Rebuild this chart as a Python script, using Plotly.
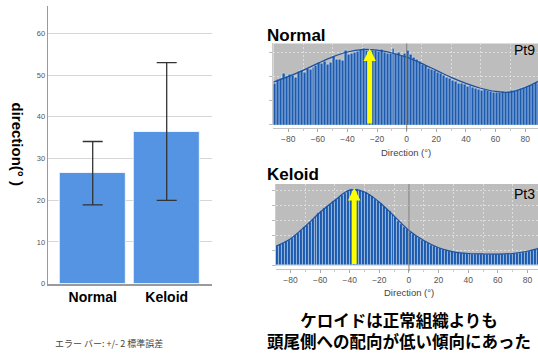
import plotly.graph_objects as go

W, H = 538, 360

# ---- mean fibre direction per group (bar chart) ----
categories = ["Normal", "Keloid"]
mean_direction = [26.5, 36.5]
err_2se = [7.6, 16.5]
y_ticks = [0, 10, 20, 30, 40, 50, 60]

# ---- orientation histograms (2 degree bins, -90..90) ----
bin_centers = list(range(-89, 90, 2))
normal_counts = [
    1.74, 1.90, 1.92, 2.12, 2.02, 2.08, 2.05, 1.95, 2.22, 2.26,
    2.18, 2.33, 2.28, 2.40, 2.45, 2.60, 2.55, 2.64, 2.52, 2.58,
    2.83, 2.72, 2.70, 2.68, 3.08, 2.92, 2.95, 3.00, 3.05, 3.12,
    3.15, 3.10, 3.12, 3.08, 3.10, 3.06, 3.12, 3.02, 2.98, 2.95,
    3.18, 2.95, 3.00, 2.90, 2.96, 3.10, 2.92, 2.78, 2.70, 2.62,
    2.50, 2.45, 2.36, 2.30, 2.25, 2.18, 2.12, 2.05, 1.98, 1.94,
    1.86, 1.80, 1.74, 1.70, 1.66, 1.60, 1.62, 1.55, 1.52, 1.48,
    1.44, 1.46, 1.42, 1.38, 1.36, 1.34, 1.35, 1.37, 1.36, 1.40,
    1.42, 1.45, 1.48, 1.52, 1.55, 1.60, 1.65, 1.66, 1.78, 1.72,
]
keloid_counts = [
    1.31, 1.40, 1.50, 1.60, 1.72, 1.84, 2.00, 2.16, 2.34, 2.52,
    2.70, 2.90, 3.08, 3.26, 3.45, 3.62, 3.78, 3.95, 4.10, 4.26,
    4.40, 4.54, 4.68, 4.82, 4.95, 5.04, 5.08, 5.07, 5.02, 4.93,
    4.84, 4.72, 4.58, 4.42, 4.27, 4.12, 3.94, 3.77, 3.58, 3.38,
    3.18, 2.98, 2.78, 2.58, 2.42, 2.25, 2.10, 1.96, 1.83, 1.72,
    1.60, 1.48, 1.38, 1.30, 1.22, 1.15, 1.08, 1.02, 0.97, 0.93,
    0.89, 0.86, 0.84, 0.82, 0.81, 0.80, 0.79, 0.78, 0.78, 0.77,
    0.77, 0.76, 0.76, 0.76, 0.76, 0.76, 0.77, 0.77, 0.78, 0.79,
    0.80, 0.82, 0.85, 0.88, 0.92, 0.97, 1.02, 1.08, 1.14, 1.18,
]
fit_angles = [-90, -80, -70, -60, -50, -40, -30, -20, -10, 0,
              10, 20, 30, 40, 50, 60, 70, 80, 90]
normal_fit = [1.77, 2.00, 2.26, 2.55, 2.82, 3.02, 3.12, 3.10, 2.98, 2.80,
              2.55, 2.26, 1.97, 1.72, 1.52, 1.39, 1.36, 1.55, 1.84]
keloid_fit = [1.27, 1.78, 2.61, 3.53, 4.33, 5.00, 4.88, 4.20, 3.28, 2.33,
              1.66, 1.18, 0.91, 0.80, 0.77, 0.76, 0.80, 0.95, 1.20]
dir_ticks = [-80, -60, -40, -20, 0, 20, 40, 60, 80]
dir_grid = [-70, -50, -30, -10, 10, 30, 50, 70]

normal_peak_angle, normal_peak_height = -25, 3.16
keloid_peak_angle, keloid_peak_height = -37, 5.14

conclusion_lines = ["ケロイドは正常組織よりも", "頭尾側への配向が低い傾向にあった"]


def fx(px):
    return px / W


def fy(py):
    return 1 - py / H


LATIN = "Liberation Sans, Arial, sans-serif"
CJK = "Noto Sans CJK JP, sans-serif"
BAR_BLUE = "#1b5aae"
PANEL_GRAY = "#bdbdbd"
GRID = "#dedede"

fig = go.Figure()

# bar chart with +/- 2 SE error bars
fig.add_trace(go.Bar(
    x=categories, y=mean_direction, width=0.9,
    marker=dict(color="#5494e3", line=dict(color="#ffffff", width=0.8)),
    error_y=dict(type="data", array=err_2se, color="#333333",
                 thickness=1.3, width=10),
    xaxis="x", yaxis="y", showlegend=False,
))

# orientation histograms with fitted curves
for counts, fit, ax, ay in [(normal_counts, normal_fit, "x2", "y2"),
                            (keloid_counts, keloid_fit, "x3", "y3")]:
    fig.add_trace(go.Bar(
        x=bin_centers, y=counts, width=2,
        marker=dict(color=BAR_BLUE, line=dict(color="#d8e6f7", width=0.5)),
        xaxis=ax, yaxis=ay, showlegend=False,
    ))
    fig.add_trace(go.Scatter(
        x=fit_angles, y=fit, mode="lines", line=dict(color="#1f4f9a", width=1.2, shape="spline"),
        xaxis=ax, yaxis=ay, showlegend=False, hoverinfo="skip",
    ))

hist_x = dict(
    tickmode="array", tickvals=dir_ticks, ticks="outside", ticklen=3,
    tickcolor="#aaaaaa", tickfont=dict(family=LATIN, size=8.5, color="#555555"),
    showline=True, linecolor="#c4c4c4", linewidth=1, showgrid=False, zeroline=False,
    minor=dict(tickmode="array", tickvals=dir_grid, showgrid=True, gridcolor=GRID,
               griddash="2px,2px", gridwidth=1, ticks="outside", ticklen=2,
               tickcolor="#cccccc"),
    anchor="free",
)
hist_y = dict(
    tickmode="linear", tick0=0, dtick=1, showticklabels=False, ticks="outside",
    ticklen=3, tickcolor="#bbbbbb", showline=True, linecolor="#cccccc", linewidth=1,
    showgrid=True, gridcolor=GRID, griddash="2px,2px", gridwidth=1, zeroline=False,
)

fig.update_layout(
    width=W, height=H, margin=dict(l=0, r=0, t=0, b=0),
    paper_bgcolor="white", plot_bgcolor="rgba(0,0,0,0)",
    bargap=0, showlegend=False,
    xaxis=dict(
        domain=[fx(47.7), fx(211.7)], range=[-0.608, 1.608], type="category",
        tickfont=dict(family=LATIN, size=14, color="black", weight="bold"),
        showline=True, linecolor="#9a9a9a", linewidth=1.5, ticks="", anchor="y",
    ),
    yaxis=dict(
        domain=[fy(287.7), fy(6)], range=[0, 66.6], tickmode="array", tickvals=y_ticks,
        tickfont=dict(family=LATIN, size=7.5, color="#555555"),
        showgrid=True, gridcolor="#d6d6d6", gridwidth=1, zeroline=False,
        showline=True, linecolor="#9a9a9a", linewidth=1, ticks="", anchor="x",
    ),
    xaxis2=dict(hist_x, domain=[fx(273.4), 1], range=[-90, 88.64], position=fy(130)),
    yaxis2=dict(hist_y, domain=[fy(126.7), fy(44)], range=[0, 3.376], anchor="x2"),
    xaxis3=dict(hist_x, domain=[fx(275.7), 1], range=[-90, 87.13], position=fy(272.5)),
    yaxis3=dict(hist_y, domain=[fy(269.3), fy(186.7)], range=[0, 5.4], anchor="x3"),
)

# gray panel backgrounds and the 0 degree reference line
for ax, ay in [("x2", "y2"), ("x3", "y3")]:
    fig.add_shape(type="rect", xref=f"{ax} domain", yref=f"{ay} domain",
                  x0=0, x1=1, y0=0, y1=1, fillcolor=PANEL_GRAY, line=dict(width=0),
                  layer="below")
    fig.add_shape(type="line", xref=ax, yref=f"{ay} domain", x0=0, x1=0, y0=-0.07, y1=1,
                  line=dict(color="#7f7f7f", width=1), layer="above")

# yellow arrows at the peak direction
for ang, h, ax, ay in [(normal_peak_angle, normal_peak_height, "x2", "y2"),
                       (keloid_peak_angle, keloid_peak_height, "x3", "y3")]:
    fig.add_annotation(x=ang, y=h, xref=ax, yref=ay, ax=ang, ay=0, axref=ax, ayref=ay,
                       text="", showarrow=True, arrowhead=2, arrowsize=0.5,
                       arrowwidth=5, arrowcolor="#ffff00", standoff=0, startstandoff=0)


def label(text, x, y, size, color="black", family=LATIN, bold=False, xanchor="center",
          angle=0):
    fig.add_annotation(
        text=text, x=fx(x), y=fy(y), xref="paper", yref="paper", showarrow=False,
        xanchor=xanchor, yanchor="middle", textangle=angle,
        font=dict(family=family, size=size, color=color, weight="bold" if bold else "normal"),
    )


label("direction(° )", 18, 146.5, 15, bold=True, angle=90)
label("エラー バー: +/- 2 標準誤差", 109, 348, 9, color="#444444", family=CJK)
label("Normal", 265, 36, 17, bold=True, xanchor="left")
label("Keloid", 265, 177, 17, bold=True, xanchor="left")
label("Pt9", 537, 51, 14, xanchor="right")
label("Pt3", 537, 197, 14, xanchor="right")
label("Direction (°)", 406, 155, 9.5, color="#444444")
label("Direction (°)", 409, 297, 9.5, color="#444444")
label("<br>".join(conclusion_lines), 399, 335, 16.5, family=CJK, bold=True)

fig.write_html("out.html")
